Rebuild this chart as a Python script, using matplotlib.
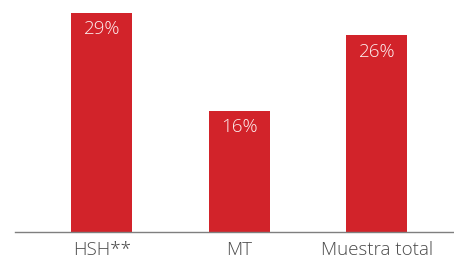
import matplotlib.pyplot as plt

categories = ['HSH**', 'MT', 'Muestra total']
values = [29, 16, 26]
labels = ['29%', '16%', '26%']

fig = plt.figure(figsize=(4.54, 2.64), dpi=100)
ax = fig.add_axes([15/454, (264-231.5)/264, 1 - 15/454, 231.5/264])

red = '#d2232a'
x = range(len(categories))
bars = ax.bar(x, values, width=0.444, color=red)

for b, lab in zip(bars, labels):
    ax.text(b.get_x() + b.get_width()/2, b.get_height() - 2.2, lab,
            ha='center', va='center', color='#fdf0f0', fontsize=13.5,
            family='Open Sans', fontweight='light')

ax.set_xlim(-0.63, 2.56)
ax.set_ylim(0, 231.5/7.55)
for s in ['top', 'right', 'left']:
    ax.spines[s].set_visible(False)
ax.spines['bottom'].set_color('#7f7f7f')
ax.spines['bottom'].set_linewidth(1)
ax.set_yticks([])
ax.set_xticks(list(x))
ax.set_xticklabels(categories, family='Open Sans', fontweight='light',
                   fontsize=13.5, color='#4a4a4a')
ax.tick_params(axis='x', length=0, pad=7)

fig.savefig('out.png', dpi=100)
